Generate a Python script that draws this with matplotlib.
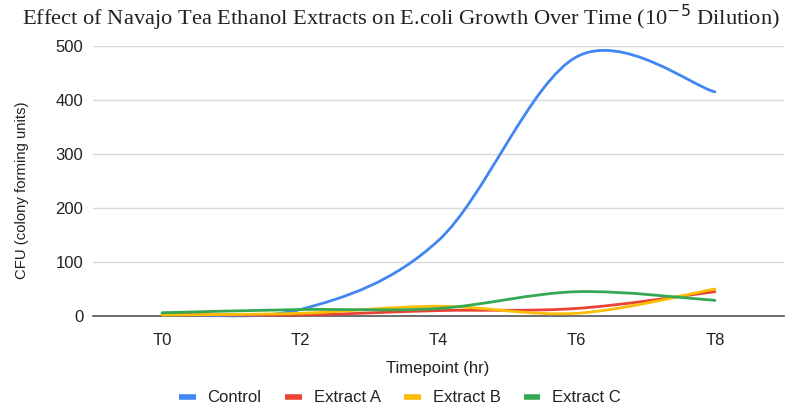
import numpy as np
import matplotlib
matplotlib.use("Agg")
import matplotlib.pyplot as plt
from matplotlib.path import Path
from matplotlib.patches import PathPatch
from matplotlib.lines import Line2D

timepoints = ["T0", "T2", "T4", "T6", "T8"]
control = [5, 12, 140, 480, 415]
extract_a = [3, 2, 10, 14, 45]
extract_b = [2, 5, 18, 5, 50]
extract_c = [6, 12, 14, 45, 29]

series_names = ["Control", "Extract A", "Extract B", "Extract C"]
series_values = [control, extract_a, extract_b, extract_c]
colors = ["#4285F4", "#EA4335", "#FBBC04", "#34A853"]

SANS = "Liberation Sans"
TEXT = "#222222"


def smooth_path(xs, ys):
    """Cubic Bezier path through the points (Catmull-Rom style tangents)."""
    pts = np.column_stack([xs, ys]).astype(float)
    n = len(pts)
    verts = [pts[0]]
    codes = [Path.MOVETO]
    for i in range(n - 1):
        p0 = pts[i - 1] if i > 0 else pts[i]
        p1 = pts[i]
        p2 = pts[i + 1]
        p3 = pts[i + 2] if i + 2 < n else pts[i + 1]
        c1 = p1 + (p2 - p0) / 6.0
        c2 = p2 - (p3 - p1) / 6.0
        verts += [c1, c2, p2]
        codes += [Path.CURVE4] * 3
    return Path(verts, codes)


fig = plt.figure(figsize=(7.92, 4.08), dpi=100)
ax = fig.add_axes([93 / 792, 1 - 316 / 408, (784 - 93) / 792, (316 - 46) / 408])

x = np.arange(len(timepoints))
for name, vals, col in zip(series_names, series_values, colors):
    patch = PathPatch(smooth_path(x, vals), facecolor="none", edgecolor=col,
                      lw=2.0, capstyle="round", joinstyle="round", zorder=3)
    patch.set_clip_on(False)
    ax.add_patch(patch)

ax.set_xlim(-0.5, len(timepoints) - 0.5)
ax.set_ylim(0, 500)
ax.set_xticks(x)
ax.set_xticklabels(timepoints)
ax.set_yticks([0, 100, 200, 300, 400, 500])

for s in ax.spines.values():
    s.set_visible(False)
ax.yaxis.grid(True, color="#d9d9d9", lw=1.0)
ax.set_axisbelow(True)
ax.axhline(0, color="#555555", lw=1.2, zorder=2, clip_on=False)
ax.tick_params(axis="both", length=0, labelsize=12, colors=TEXT)
ax.tick_params(axis="y", pad=7)
ax.tick_params(axis="x", pad=12)
for lab in ax.get_xticklabels() + ax.get_yticklabels():
    lab.set_family(SANS)

fig.text(22 / 792, 1 - 190 / 408, "CFU (colony forming units)", family=SANS,
         fontsize=10.7, color=TEXT, rotation=90, ha="center", va="center")
fig.text(438 / 792, 1 - 369 / 408, "Timepoint (hr)", family=SANS,
         fontsize=12, color=TEXT, ha="center", va="center")

fig.text(401 / 792, 1 - 25 / 408,
         r"Effect of Navajo Tea Ethanol Extracts on E.coli Growth Over Time (10$^{-5}$ Dilution)",
         family="Liberation Serif", fontsize=16.2, color=TEXT,
         ha="center", va="baseline")

handles = [Line2D([], [], color=c, lw=4, solid_capstyle="butt") for c in colors]
fig.legend(handles, series_names, loc="center", bbox_to_anchor=(400 / 792, 1 - 398 / 408),
           ncol=4, frameon=False, handlelength=1.0, handletextpad=0.72,
           columnspacing=1.4, prop={"family": SANS, "size": 12},
           labelcolor=TEXT)

fig.savefig("out.png", dpi=100)
